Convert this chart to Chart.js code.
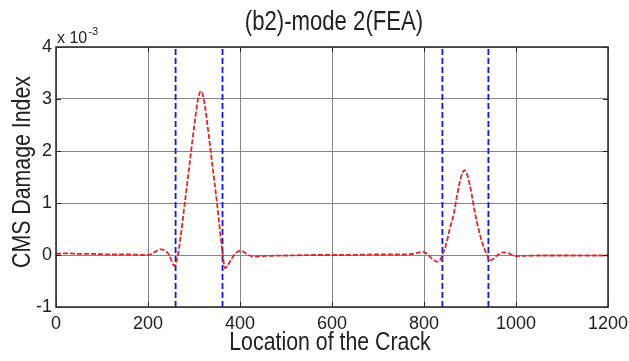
<!DOCTYPE html>
<html>
<head>
<meta charset="utf-8">
<script src="https://cdn.jsdelivr.net/npm/chart.js@4.4.1/dist/chart.umd.min.js"></script>
<style>
  html, body { margin: 0; padding: 0; background: #fff; }
  #damageChart { display: block; }
</style>
</head>
<body>
<canvas id="damageChart" width="629" height="361"></canvas>
<script>
// crack location along the beam
const crackLoc = [
  0, 15, 30, 50, 80, 120, 160, 195, 205, 215, 228, 238, 246, 252, 257, 261,
  265, 270, 280, 290, 300, 306, 310, 315, 320, 324, 330, 340, 350, 356, 362,
  367, 372, 380, 390, 400, 408, 418, 430, 450, 500, 560, 620, 700, 760, 782,
  796, 806, 816, 825, 831, 836, 840, 848, 856, 865, 872, 880, 888, 896, 904,
  911, 920, 928, 937, 943, 950, 960, 972, 985, 998, 1050, 1120, 1200
]
// CMS damage index, in units of 1e-3
const damageIdx = [
  0.02, 0.03, 0.03, 0.02, 0.02, 0.01, 0.01, 0.0, 0.01, 0.06, 0.11, 0.08, 0.0, -0.13, -0.21, -0.15,
  0.0, 0.29, 1.0, 1.72, 2.45, 2.85, 3.05, 3.15, 3.05, 2.85, 2.45, 1.72, 1.0, 0.5, 0.05,
  -0.25, -0.22, -0.1, 0.03, 0.08, 0.06, 0.0, -0.03, -0.02, -0.01, 0.0, 0.0, 0.01, 0.01, 0.03,
  0.06, 0.03, -0.06, -0.12, -0.13, -0.08, 0.0, 0.2, 0.5, 0.8, 1.15, 1.48, 1.63, 1.48, 1.15,
  0.8, 0.45, 0.2, 0.0, -0.11, -0.08, 0.0, 0.05, 0.03, -0.02, -0.01, -0.01, -0.01
]
// crack zone boundaries (blue dashed lines)
const crackBounds = [260, 362, 840, 940]
const xTicks = [0, 200, 400, 600, 800, 1000, 1200]
const yTicks = [-1, 0, 1, 2, 3, 4]

const FONT = '"Liberation Sans", Arial, sans-serif'
Chart.defaults.font.family = FONT
Chart.defaults.color = "#222"

const yMin = yTicks[0]
const yMax = yTicks[yTicks.length - 1]

const datasets = [
  {
    label: "CMS",
    data: crackLoc.map((x, i) => ({ x: x, y: damageIdx[i] })),
    borderColor: "rgb(220, 40, 40)",
    borderWidth: 1.8,
    borderDash: [5, 2],
    pointRadius: 0,
    cubicInterpolationMode: "monotone",
    fill: false,
  },
]
crackBounds.forEach((b) => {
  datasets.push({
    label: "bound " + b,
    data: [{ x: b, y: yMin }, { x: b, y: yMax }],
    borderColor: "rgb(20, 20, 225)",
    borderWidth: 1.8,
    borderDash: [6, 3],
    pointRadius: 0,
    fill: false,
  })
})

// narrow-looking text, like the squeezed original
function narrowText(ctx, text, x, y, size, rot) {
  ctx.save()
  ctx.translate(x, y)
  if (rot) ctx.rotate(rot)
  ctx.scale(0.82, 1)
  ctx.font = size + "px " + FONT
  ctx.textAlign = "center"
  ctx.textBaseline = "middle"
  ctx.fillText(text, 0, 0)
  ctx.restore()
}

const matlabFrame = {
  id: "matlabFrame",
  afterDraw(chart) {
    const ctx = chart.ctx
    const a = chart.chartArea
    const xs = chart.scales.x
    const ys = chart.scales.y
    ctx.save()
    // inward ticks
    ctx.strokeStyle = "#222"
    ctx.lineWidth = 1
    ctx.setLineDash([])
    xTicks.forEach((t) => {
      const px = Math.round(xs.getPixelForValue(t)) + 0.5
      ctx.beginPath()
      ctx.moveTo(px, a.bottom); ctx.lineTo(px, a.bottom - 5)
      ctx.moveTo(px, a.top); ctx.lineTo(px, a.top + 5)
      ctx.stroke()
    })
    yTicks.forEach((t) => {
      const py = Math.round(ys.getPixelForValue(t)) + 0.5
      ctx.beginPath()
      ctx.moveTo(a.left, py); ctx.lineTo(a.left + 5, py)
      ctx.moveTo(a.right, py); ctx.lineTo(a.right - 5, py)
      ctx.stroke()
    })
    // box
    ctx.strokeStyle = "#333"
    ctx.lineWidth = 1.6
    ctx.strokeRect(a.left, a.top, a.right - a.left, a.bottom - a.top)
    // titles
    ctx.fillStyle = "#222"
    narrowText(ctx, "(b2)-mode 2(FEA)", 334, 23, 27, 0)
    narrowText(ctx, "Location of the Crack", 330, 343, 26, 0)
    narrowText(ctx, "CMS Damage Index", 23, 172, 26, -Math.PI / 2)
    // exponent label
    ctx.textAlign = "left"
    ctx.textBaseline = "alphabetic"
    ctx.font = "16px " + FONT
    ctx.fillText("x 10", a.left + 1, a.top - 4)
    const w = ctx.measureText("x 10").width
    ctx.font = "11px " + FONT
    ctx.fillText("-3", a.left + 2 + w, a.top - 12)
    ctx.restore()
  },
}

const config = {
  type: "line",
  data: { datasets: datasets },
  options: {
    responsive: false,
    animation: false,
    layout: { padding: { top: 47, right: 21, left: 0, bottom: 0 } },
    plugins: {
      legend: { display: false },
      tooltip: { enabled: false },
      title: { display: false },
    },
    scales: {
      x: {
        type: "linear",
        min: xTicks[0],
        max: xTicks[xTicks.length - 1],
        afterBuildTicks: (scale) => { scale.ticks = xTicks.map((v) => ({ value: v })) },
        afterFit: (scale) => {
          scale.height = 54
          scale.paddingLeft = 0
          scale.paddingRight = 0
        },
        ticks: {
          font: { size: 18 },
          padding: 6,
          maxRotation: 0,
          color: "#222",
          callback: (v) => String(v),
        },
        grid: { color: "rgb(135, 135, 135)", lineWidth: 1, drawTicks: false },
        border: { display: false },
      },
      y: {
        type: "linear",
        min: yMin,
        max: yMax,
        afterBuildTicks: (scale) => { scale.ticks = yTicks.map((v) => ({ value: v })) },
        afterFit: (scale) => {
          scale.width = 56
          scale.paddingTop = 0
          scale.paddingBottom = 0
        },
        ticks: { font: { size: 18 }, padding: 4, color: "#222", callback: (v) => String(v) },
        grid: { color: "rgb(135, 135, 135)", lineWidth: 1, drawTicks: false },
        border: { display: false },
      },
    },
  },
  plugins: [matlabFrame],
}

const damageChart = new Chart(document.getElementById("damageChart"), config)
</script>
</body>
</html>
